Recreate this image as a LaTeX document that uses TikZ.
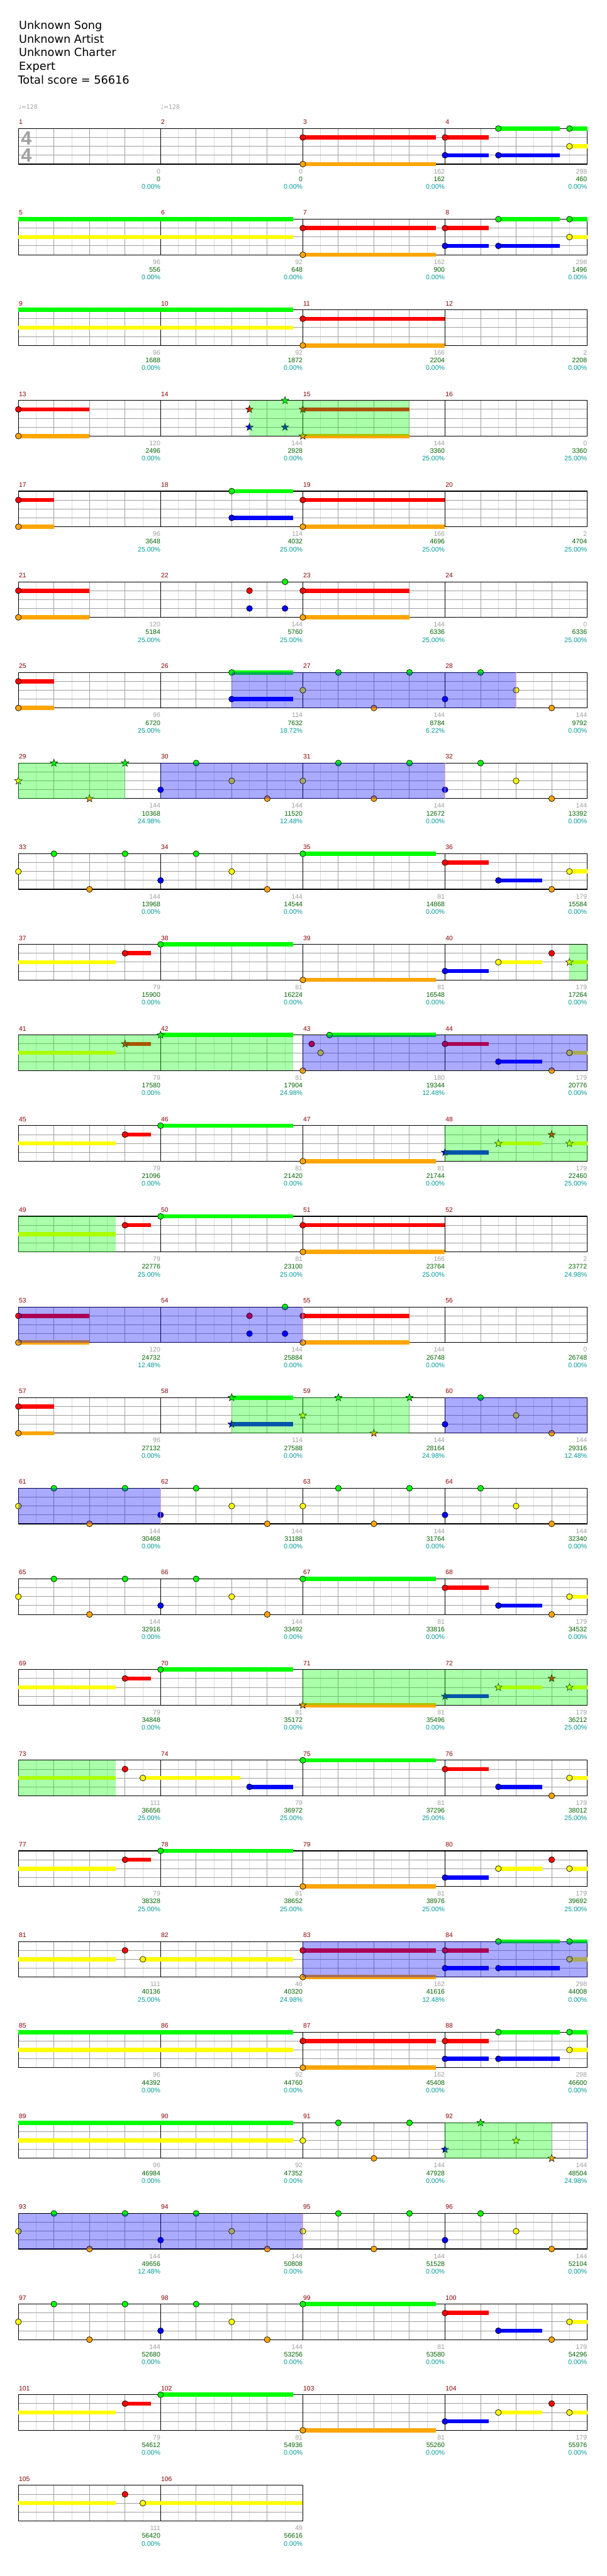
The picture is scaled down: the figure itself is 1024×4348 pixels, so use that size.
\documentclass[tikz,border=0pt]{standalone}
\usepackage{fontspec}
\setmainfont{DejaVu Sans}
\newfontfamily\labfont{Liberation Sans}
\definecolor{gG}{HTML}{00FF00}
\definecolor{gR}{HTML}{FF0000}
\definecolor{gY}{HTML}{FFFF00}
\definecolor{gB}{HTML}{0000FF}
\definecolor{gO}{HTML}{FFA500}
\definecolor{mnumc}{HTML}{8B0000}
\definecolor{labgrey}{HTML}{A0A0A0}
\definecolor{labgreen}{HTML}{006400}
\definecolor{labteal}{HTML}{009999}
\definecolor{gridlight}{HTML}{DCDCDC}
\definecolor{gridmid}{HTML}{A0A0A0}
\definecolor{edgepink}{HTML}{E8A8A8}
\definecolor{edgenavy}{HTML}{000066}
\newcommand\setcol[1]{\ifcase#1\def\cc{gG}\or\def\cc{gR}\or\def\cc{gY}\or\def\cc{gB}\or\def\cc{gO}\fi}
\newcommand\R[1]{\pgfmathsetmacro\rt{217+153*#1}}
\newcommand\n[2]{\setcol{#2}\filldraw[fill=\cc,draw=black,line width=0.35pt] ({31+30*#1},{\rt+15*#2}) circle[radius=5];}
\newcommand\s[3]{\setcol{#3}\fill[\cc] ({31+30*#1},{\rt+15*#3-3.5}) rectangle ({31+30*#2},{\rt+15*#3+3.5});}
\newcommand\st[2]{\setcol{#2}\filldraw[fill=\cc,draw=black,line width=0.3pt] ({31+30*#1},{\rt+15*#2}) +(90:3.3pt) -- +(126:1.35pt) -- +(162:3.3pt) -- +(198:1.35pt) -- +(234:3.3pt) -- +(270:1.35pt) -- +(306:3.3pt) -- +(342:1.35pt) -- +(18:3.3pt) -- +(54:1.35pt) -- cycle;}
\newcommand\gsp[2]{\fill[gG,fill opacity=0.333] ({31+30*#1},\rt) rectangle ({31+30*#2},{\rt+60});}
\newcommand\bsp[2]{\fill[gB,fill opacity=0.333] ({31+30*#1},\rt) rectangle ({31+30*#2},{\rt+60});}
\newcommand\bend[1]{\draw[edgepink,line width=0.5pt] ({31+30*#1},\rt) -- ({31+30*#1},{\rt+60});}
\newcommand\grid[2]{%
  \R{#1}%
  \foreach \k in {1,...,#2}{\foreach \d in {30,90,150,210}{\draw[gridlight,line width=0.5pt] ({31+240*(\k-1)+\d},\rt) -- ++(0,60);}}%
  \foreach \k in {1,...,#2}{\foreach \d in {60,120,180}{\draw[gridmid,line width=0.5pt] ({31+240*(\k-1)+\d},\rt) -- ++(0,60);}}%
  \foreach \l in {15,30,45}{\draw[gridmid,line width=0.5pt] (31,{\rt+\l}) -- ({31+240*#2},{\rt+\l});}%
  \foreach \k in {1,...,#2}{\draw[black,line width=0.5pt] ({31+240*\k},\rt) -- ++(0,60);}%
  \draw[black,line width=0.6pt] (31,\rt) rectangle ({31+240*#2},{\rt+60});}
\newcommand\MN[1]{%
  \pgfmathtruncatemacro\rr{(#1-1)/4}\pgfmathtruncatemacro\kk{#1-1-4*\rr}%
  \pgfmathsetmacro\yy{217+153*\rr}\pgfmathsetmacro\xx{31+240*\kk}%
  \node[mnum] (mn#1) at ({\xx+0.5},{\yy-7}) {#1};}
\newcommand\M[4]{%
  \MN{#1}%
  \node[lgrey] (la#1) at ({\xx+240},{\yy+76}) {#2};
  \node[lgreen] (lb#1) at ({\xx+240},{\yy+89}) {#3};
  \node[lteal] (lc#1) at ({\xx+240},{\yy+102}) {#4};}
\tikzset{
  mnum/.style={anchor=base west,inner sep=0,text=mnumc,font=\labfont\fontsize{5.5}{6}\selectfont},
  lgrey/.style={anchor=base east,inner sep=0,text=labgrey,font=\labfont\fontsize{5.6}{6}\selectfont},
  lgreen/.style={anchor=base east,inner sep=0,text=labgreen,font=\labfont\fontsize{5.6}{6}\selectfont},
  lteal/.style={anchor=base east,inner sep=0,text=labteal,font=\labfont\fontsize{5.6}{6}\selectfont},
  ttl/.style={anchor=base west,inner sep=0,font=\fontsize{9.4}{11}\selectfont},
  tempo/.style={anchor=base west,inner sep=0,text=labgrey,font=\fontsize{5}{6}\selectfont},
  tsig/.style={anchor=base west,inner sep=0,text=labgrey,font=\labfont\bfseries\fontsize{16.3}{17}\selectfont}
}
\begin{document}
\begin{tikzpicture}[x=0.5pt,y=-0.5pt]
\fill[white] (0,0) rectangle (1024,4348);
\useasboundingbox (0,0) rectangle (1024,4348);
\node[ttl] (t1) at (31.5,49.3) {Unknown Song};
\node[ttl] (t2) at (31.5,72.3) {Unknown Artist};
\node[ttl] (t3) at (31.5,95.3) {Unknown Charter};
\node[ttl] (t4) at (31.5,118.3) {Expert};
\node[ttl] (t5) at (30,141.3) {Total score = 56616};
\node[tempo] (tp1) at (31,184.3) {♩=128};
\node[tempo] (tp2) at (271,184.3) {♩=128};
\foreach \r in {0,...,25}{\grid{\r}{4}}
\grid{26}{2}
\node[tsig] (ts1) at (35,244.8) {4};
\node[tsig] (ts2) at (35,273.8) {4};
% row 0
\R{0}
\s{16}{23.47}{1}\s{16}{23.47}{4}\s{24}{26.47}{1}\s{24}{26.47}{3}\s{27}{30.47}{3}\s{27}{30.47}{0}\s{31}{32}{0}\s{31}{32}{2}
\n{16}{1}\n{16}{4}\n{24}{1}\n{24}{3}\n{27}{3}\n{27}{0}\n{31}{0}\n{31}{2}
% row 1
\R{1}
\s{0}{15.47}{0}\s{0}{15.47}{2}\s{16}{23.47}{1}\s{16}{23.47}{4}\s{24}{26.47}{1}\s{24}{26.47}{3}\s{27}{30.47}{3}\s{27}{30.47}{0}\s{31}{32}{0}\s{31}{32}{2}
\n{16}{1}\n{16}{4}\n{24}{1}\n{24}{3}\n{27}{3}\n{27}{0}\n{31}{0}\n{31}{2}
% row 2
\R{2}
\s{0}{15.47}{0}\s{0}{15.47}{2}\s{16}{24}{1}\s{16}{24}{4}
\n{16}{1}\n{16}{4}
% row 3
\R{3}
\s{0}{4}{1}\s{0}{4}{4}\s{16}{22}{1}\s{16}{22}{4}
\n{0}{1}\n{0}{4}
\st{13}{1}\st{13}{3}\st{15}{0}\st{15}{3}\st{16}{1}\st{16}{4}
\gsp{13}{22}
% row 4
\R{4}
\s{0}{2}{1}\s{0}{2}{4}\s{12}{15.47}{0}\s{12}{15.47}{3}\s{16}{24}{1}\s{16}{24}{4}
\n{0}{1}\n{0}{4}\n{12}{0}\n{12}{3}\n{16}{1}\n{16}{4}
% row 5
\R{5}
\s{0}{4}{1}\s{0}{4}{4}\s{16}{22}{1}\s{16}{22}{4}
\n{0}{1}\n{0}{4}\n{13}{1}\n{13}{3}\n{15}{0}\n{15}{3}\n{16}{1}\n{16}{4}
% row 6
\R{6}
\s{0}{2}{1}\s{0}{2}{4}\s{12}{15.47}{0}\s{12}{15.47}{3}
\n{0}{1}\n{0}{4}\n{12}{0}\n{12}{3}\n{16}{2}\n{18}{0}\n{20}{4}\n{22}{0}\n{24}{3}\n{26}{0}\n{28}{2}\n{30}{4}
\bsp{12}{28}\bend{28}
% row 7
\R{7}
\st{0}{2}\st{2}{0}\st{4}{4}\st{6}{0}
\n{8}{3}\n{10}{0}\n{12}{2}\n{14}{4}\n{16}{2}\n{18}{0}\n{20}{4}\n{22}{0}\n{24}{3}\n{26}{0}\n{28}{2}\n{30}{4}
\gsp{0}{6}\bsp{8}{24}\bend{24}
% row 8
\R{8}
\s{16}{23.47}{0}\s{24}{26.47}{1}\s{27}{29.47}{3}\s{31}{32}{2}
\n{0}{2}\n{2}{0}\n{4}{4}\n{6}{0}\n{8}{3}\n{10}{0}\n{12}{2}\n{14}{4}\n{16}{0}\n{24}{1}\n{27}{3}\n{30}{4}\n{31}{2}
% row 9
\R{9}
\s{0}{5.47}{2}\s{6}{7.47}{1}\s{8}{15.47}{0}\s{16}{23.47}{4}\s{24}{26.47}{3}\s{27}{29.47}{2}\s{31}{32}{2}
\n{6}{1}\n{8}{0}\n{16}{4}\n{24}{3}\n{27}{2}\n{30}{1}\st{31}{2}
\gsp{31}{32}
% row 10
\R{10}
\s{0}{5.47}{2}\s{6}{7.47}{1}\s{8}{15.47}{0}\s{17.5}{23.47}{0}\s{24}{26.47}{1}\s{27}{29.47}{3}\s{31}{32}{2}
\st{6}{1}\st{8}{0}
\n{16}{4}\n{16.5}{1}\n{17}{2}\n{17.5}{0}\n{24}{1}\n{27}{3}\n{30}{4}\n{31}{2}
\gsp{0}{15.47}\bsp{16}{32}
% row 11
\R{11}
\s{0}{5.47}{2}\s{6}{7.47}{1}\s{8}{15.47}{0}\s{16}{23.47}{4}\s{24}{26.47}{3}\s{27}{29.47}{2}\s{31}{32}{2}
\n{6}{1}\n{8}{0}\n{16}{4}
\st{24}{3}\st{27}{2}\st{30}{1}\st{31}{2}
\gsp{24}{32}
% row 12
\R{12}
\s{0}{5.47}{2}\s{6}{7.47}{1}\s{8}{15.47}{0}\s{16}{24}{1}\s{16}{24}{4}
\n{6}{1}\n{8}{0}\n{16}{1}\n{16}{4}
\gsp{0}{5.47}
% row 13
\R{13}
\s{0}{4}{1}\s{0}{4}{4}\s{16}{22}{1}\s{16}{22}{4}
\n{0}{1}\n{0}{4}\n{13}{1}\n{13}{3}\n{15}{0}\n{15}{3}\n{16}{1}\n{16}{4}
\bsp{0}{16}\bend{16}
% row 14
\R{14}
\s{0}{2}{1}\s{0}{2}{4}\s{12}{15.47}{0}\s{12}{15.47}{3}
\n{0}{1}\n{0}{4}
\st{12}{0}\st{12}{3}\st{16}{2}\st{18}{0}\st{20}{4}\st{22}{0}
\n{24}{3}\n{26}{0}\n{28}{2}\n{30}{4}
\gsp{12}{22}\bsp{24}{32}
% row 15
\R{15}
\n{0}{2}\n{2}{0}\n{4}{4}\n{6}{0}\n{8}{3}\n{10}{0}\n{12}{2}\n{14}{4}\n{16}{2}\n{18}{0}\n{20}{4}\n{22}{0}\n{24}{3}\n{26}{0}\n{28}{2}\n{30}{4}
\bsp{0}{8}\bend{8}
% row 16
\R{16}
\s{16}{23.47}{0}\s{24}{26.47}{1}\s{27}{29.47}{3}\s{31}{32}{2}
\n{0}{2}\n{2}{0}\n{4}{4}\n{6}{0}\n{8}{3}\n{10}{0}\n{12}{2}\n{14}{4}\n{16}{0}\n{24}{1}\n{27}{3}\n{30}{4}\n{31}{2}
% row 17
\R{17}
\s{0}{5.47}{2}\s{6}{7.47}{1}\s{8}{15.47}{0}\s{16}{23.47}{4}\s{24}{26.47}{3}\s{27}{29.47}{2}\s{31}{32}{2}
\n{6}{1}\n{8}{0}
\st{16}{4}\st{24}{3}\st{27}{2}\st{30}{1}\st{31}{2}
\gsp{16}{32}
% row 18
\R{18}
\s{0}{5.47}{2}\s{7}{12.47}{2}\s{13}{15.47}{3}\s{16}{23.47}{0}\s{24}{26.47}{1}\s{27}{29.47}{3}\s{31}{32}{2}
\n{6}{1}\n{7}{2}\n{13}{3}\n{16}{0}\n{24}{1}\n{27}{3}\n{30}{4}\n{31}{2}
\gsp{0}{5.47}
% row 19
\R{19}
\s{0}{5.47}{2}\s{6}{7.47}{1}\s{8}{15.47}{0}\s{16}{23.47}{4}\s{24}{26.47}{3}\s{27}{29.47}{2}\s{31}{32}{2}
\n{6}{1}\n{8}{0}\n{16}{4}\n{24}{3}\n{27}{2}\n{30}{1}\n{31}{2}
% row 20
\R{20}
\s{0}{5.47}{2}\s{7}{15.47}{2}\s{16}{23.47}{1}\s{16}{23.47}{4}\s{24}{26.47}{1}\s{24}{26.47}{3}\s{27}{30.47}{3}\s{27}{30.47}{0}\s{31}{32}{0}\s{31}{32}{2}
\n{6}{1}\n{7}{2}\n{16}{1}\n{16}{4}\n{24}{1}\n{24}{3}\n{27}{3}\n{27}{0}\n{31}{0}\n{31}{2}
\bsp{16}{32}
% row 21
\R{21}
\s{0}{15.47}{0}\s{0}{15.47}{2}\s{16}{23.47}{1}\s{16}{23.47}{4}\s{24}{26.47}{1}\s{24}{26.47}{3}\s{27}{30.47}{3}\s{27}{30.47}{0}\s{31}{32}{0}\s{31}{32}{2}
\n{16}{1}\n{16}{4}\n{24}{1}\n{24}{3}\n{27}{3}\n{27}{0}\n{31}{0}\n{31}{2}
% row 22
\R{22}
\s{0}{15.47}{0}\s{0}{15.47}{2}
\n{16}{2}\n{18}{0}\n{20}{4}\n{22}{0}
\st{24}{3}\st{26}{0}\st{28}{2}\st{30}{4}
\gsp{24}{30}
\draw[edgenavy,line width=0.8pt] (991,\rt) -- (991,{\rt+60});
% row 23
\R{23}
\n{0}{2}\n{2}{0}\n{4}{4}\n{6}{0}\n{8}{3}\n{10}{0}\n{12}{2}\n{14}{4}\n{16}{2}\n{18}{0}\n{20}{4}\n{22}{0}\n{24}{3}\n{26}{0}\n{28}{2}\n{30}{4}
\bsp{0}{16}\bend{16}
% row 24
\R{24}
\s{16}{23.47}{0}\s{24}{26.47}{1}\s{27}{29.47}{3}\s{31}{32}{2}
\n{0}{2}\n{2}{0}\n{4}{4}\n{6}{0}\n{8}{3}\n{10}{0}\n{12}{2}\n{14}{4}\n{16}{0}\n{24}{1}\n{27}{3}\n{30}{4}\n{31}{2}
% row 25
\R{25}
\s{0}{5.47}{2}\s{6}{7.47}{1}\s{8}{15.47}{0}\s{16}{23.47}{4}\s{24}{26.47}{3}\s{27}{29.47}{2}\s{31}{32}{2}
\n{6}{1}\n{8}{0}\n{16}{4}\n{24}{3}\n{27}{2}\n{30}{1}\n{31}{2}
% row 26
\R{26}
\s{0}{5.47}{2}\s{7}{16}{2}
\n{6}{1}\n{7}{2}
% labels
\M{1}{0}{0}{0.00\%}\M{2}{0}{0}{0.00\%}\M{3}{162}{162}{0.00\%}\M{4}{298}{460}{0.00\%}
\M{5}{96}{556}{0.00\%}\M{6}{92}{648}{0.00\%}\M{7}{162}{900}{0.00\%}\M{8}{298}{1496}{0.00\%}
\M{9}{96}{1688}{0.00\%}\M{10}{92}{1872}{0.00\%}\M{11}{166}{2204}{0.00\%}\M{12}{2}{2208}{0.00\%}
\M{13}{120}{2496}{0.00\%}\M{14}{144}{2928}{0.00\%}\M{15}{144}{3360}{25.00\%}\M{16}{0}{3360}{25.00\%}
\M{17}{96}{3648}{25.00\%}\M{18}{114}{4032}{25.00\%}\M{19}{166}{4696}{25.00\%}\M{20}{2}{4704}{25.00\%}
\M{21}{120}{5184}{25.00\%}\M{22}{144}{5760}{25.00\%}\M{23}{144}{6336}{25.00\%}\M{24}{0}{6336}{25.00\%}
\M{25}{96}{6720}{25.00\%}\M{26}{114}{7632}{18.72\%}\M{27}{144}{8784}{6.22\%}\M{28}{144}{9792}{0.00\%}
\M{29}{144}{10368}{24.98\%}\M{30}{144}{11520}{12.48\%}\M{31}{144}{12672}{0.00\%}\M{32}{144}{13392}{0.00\%}
\M{33}{144}{13968}{0.00\%}\M{34}{144}{14544}{0.00\%}\M{35}{81}{14868}{0.00\%}\M{36}{179}{15584}{0.00\%}
\M{37}{79}{15900}{0.00\%}\M{38}{81}{16224}{0.00\%}\M{39}{81}{16548}{0.00\%}\M{40}{179}{17264}{0.00\%}
\M{41}{79}{17580}{0.00\%}\M{42}{81}{17904}{24.98\%}\M{43}{180}{19344}{12.48\%}\M{44}{179}{20776}{0.00\%}
\M{45}{79}{21096}{0.00\%}\M{46}{81}{21420}{0.00\%}\M{47}{81}{21744}{0.00\%}\M{48}{179}{22460}{25.00\%}
\M{49}{79}{22776}{25.00\%}\M{50}{81}{23100}{25.00\%}\M{51}{166}{23764}{25.00\%}\M{52}{2}{23772}{24.98\%}
\M{53}{120}{24732}{12.48\%}\M{54}{144}{25884}{0.00\%}\M{55}{144}{26748}{0.00\%}\M{56}{0}{26748}{0.00\%}
\M{57}{96}{27132}{0.00\%}\M{58}{114}{27588}{0.00\%}\M{59}{144}{28164}{24.98\%}\M{60}{144}{29316}{12.48\%}
\M{61}{144}{30468}{0.00\%}\M{62}{144}{31188}{0.00\%}\M{63}{144}{31764}{0.00\%}\M{64}{144}{32340}{0.00\%}
\M{65}{144}{32916}{0.00\%}\M{66}{144}{33492}{0.00\%}\M{67}{81}{33816}{0.00\%}\M{68}{179}{34532}{0.00\%}
\M{69}{79}{34848}{0.00\%}\M{70}{81}{35172}{0.00\%}\M{71}{81}{35496}{0.00\%}\M{72}{179}{36212}{25.00\%}
\M{73}{111}{36656}{25.00\%}\M{74}{79}{36972}{25.00\%}\M{75}{81}{37296}{25.00\%}\M{76}{179}{38012}{25.00\%}
\M{77}{79}{38328}{25.00\%}\M{78}{81}{38652}{25.00\%}\M{79}{81}{38976}{25.00\%}\M{80}{179}{39692}{25.00\%}
\M{81}{111}{40136}{25.00\%}\M{82}{46}{40320}{24.98\%}\M{83}{162}{41616}{12.48\%}\M{84}{298}{44008}{0.00\%}
\M{85}{96}{44392}{0.00\%}\M{86}{92}{44760}{0.00\%}\M{87}{162}{45408}{0.00\%}\M{88}{298}{46600}{0.00\%}
\M{89}{96}{46984}{0.00\%}\M{90}{92}{47352}{0.00\%}\M{91}{144}{47928}{0.00\%}\M{92}{144}{48504}{24.98\%}
\M{93}{144}{49656}{12.48\%}\M{94}{144}{50808}{0.00\%}\M{95}{144}{51528}{0.00\%}\M{96}{144}{52104}{0.00\%}
\M{97}{144}{52680}{0.00\%}\M{98}{144}{53256}{0.00\%}\M{99}{81}{53580}{0.00\%}\M{100}{179}{54296}{0.00\%}
\M{101}{79}{54612}{0.00\%}\M{102}{81}{54936}{0.00\%}\M{103}{81}{55260}{0.00\%}\M{104}{179}{55976}{0.00\%}
\M{105}{111}{56420}{0.00\%}\M{106}{49}{56616}{0.00\%}
\end{tikzpicture}
\end{document}
